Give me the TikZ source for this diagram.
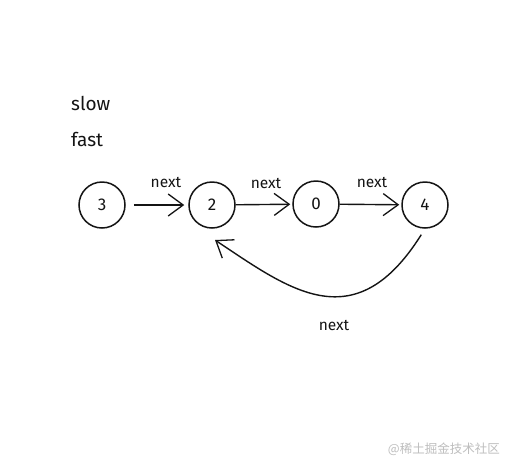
\documentclass[tikz,border=0pt]{standalone}
\usepackage{fontspec}
\setmainfont{Fira Sans}
\newfontfamily\cjk{Noto Sans CJK SC}
\usetikzlibrary{arrows.meta}
\definecolor{ink}{RGB}{20,20,20}
\definecolor{wm}{RGB}{190,190,190}
\tikzset{
  listnode/.style={circle, draw=ink, line width=1.5pt, minimum size=46pt, inner sep=0pt, font=\fontsize{17}{17}\selectfont, text=ink},
  link/.style={draw=ink, line width=1.4pt, -{Straight Barb[length=15pt,width=22pt,line width=1.3pt]}},
  lbl/.style={font=\fontsize{15.5}{15.5}\selectfont, text=ink, inner sep=0pt},
  ptr/.style={font=\fontsize{19}{19}\selectfont, text=ink, inner sep=0pt, anchor=west}
}
\begin{document}
\begin{tikzpicture}[x=1pt,y=-1pt]
\useasboundingbox (0,0) rectangle (509,467);
\fill[white] (0,0) rectangle (509,467);
\node[ptr] (slow) at (71,103) {slow};
\node[ptr] (fast) at (71,139) {fast};
\node[listnode] (n3) at (102,205) {3};
\node[listnode] (n2) at (212,205) {2};
\node[listnode] (n0) at (316,204) {0};
\node[listnode] (n4) at (425,205) {4};
\draw[link, shorten <=8pt, shorten >=4pt] (n3) -- (n2);
\draw[link, shorten <=0pt, shorten >=2pt] (n2) -- (n0);
\draw[link, shorten <=0pt, shorten >=2pt] (n0) -- (n4);
\node[lbl] (l1) at (166,182) {next};
\node[lbl] (l2) at (266,183) {next};
\node[lbl] (l3) at (372,182) {next};
\coordinate (tip) at (215,240);
\draw[link, shorten <=7pt] (n4.south) .. controls (355,340) and (290,290) .. (tip);
\node[lbl] (l4) at (334,325) {next};
\node[font=\cjk\fontsize{12.5}{12.5}\selectfont, text=wm, anchor=east, inner sep=0pt] (wmk) at (500,449) {@稀土掘金技术社区};
\end{tikzpicture}
\end{document}
